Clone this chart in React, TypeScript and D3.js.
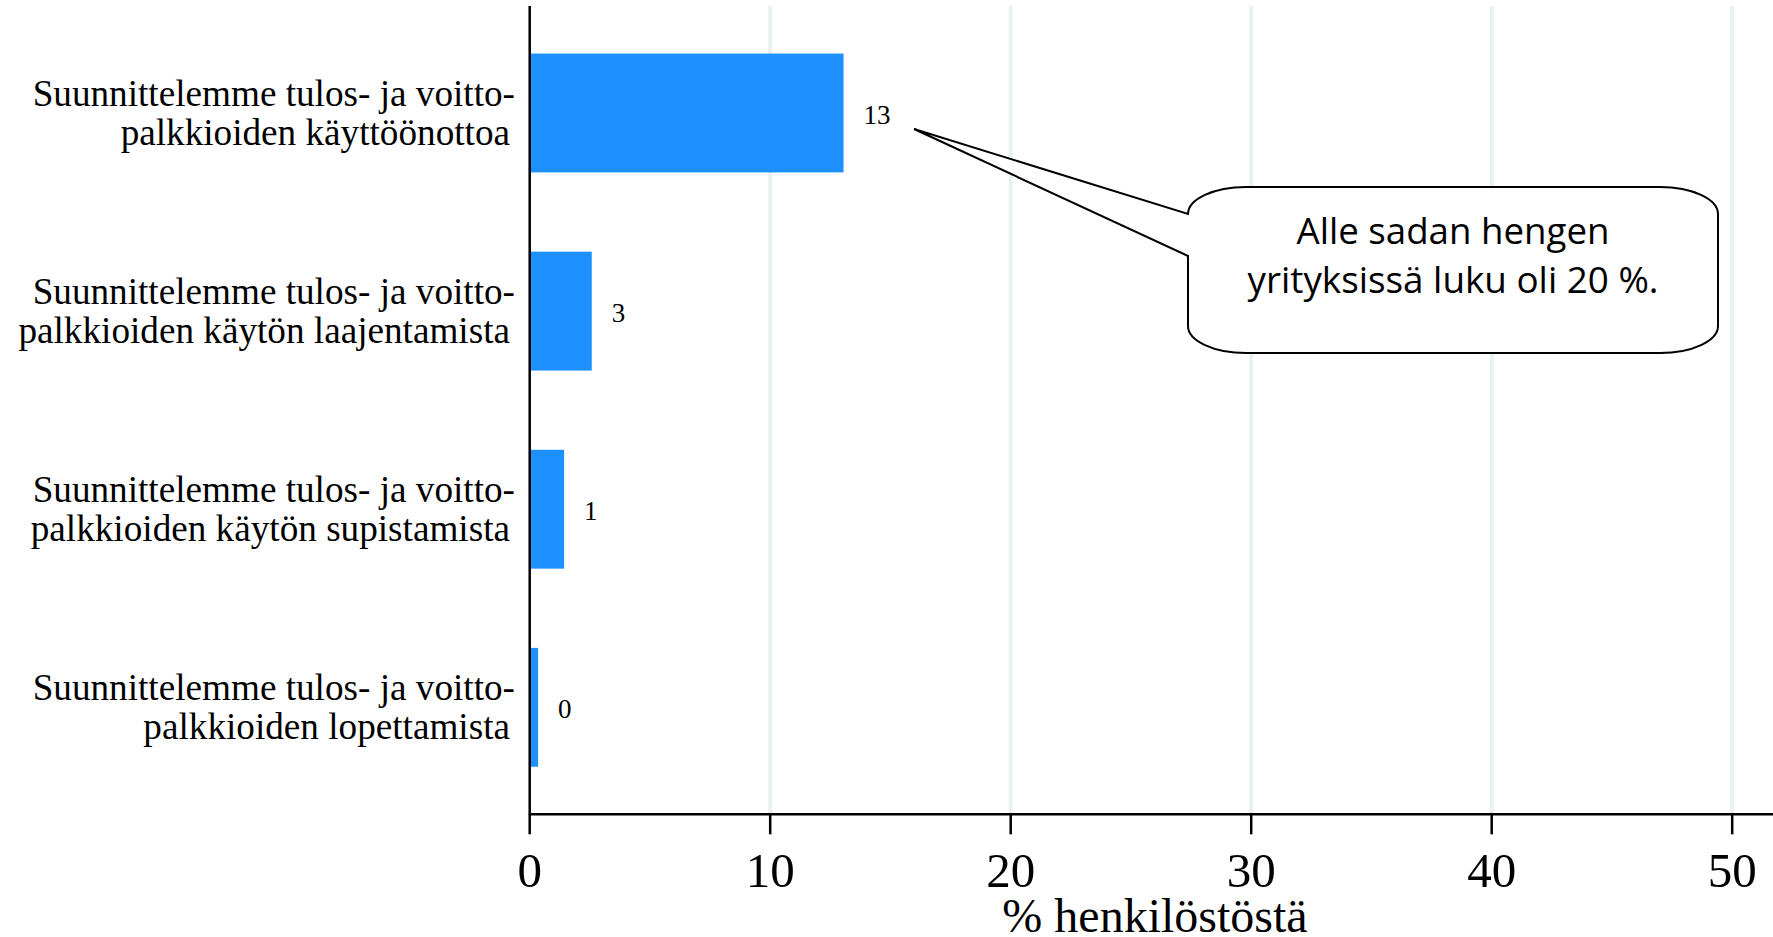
import React from "react";
import * as d3 from "d3";

const categoryLine1 = [
  "Suunnittelemme tulos- ja voitto-",
  "Suunnittelemme tulos- ja voitto-",
  "Suunnittelemme tulos- ja voitto-",
  "Suunnittelemme tulos- ja voitto-",
];
const categoryLine2 = [
  "palkkioiden käyttöönottoa",
  "palkkioiden käytön laajentamista",
  "palkkioiden käytön supistamista",
  "palkkioiden lopettamista",
];
const values = [13.05, 2.58, 1.43, 0.35];
const valueLabels = ["13", "3", "1", "0"];
const xTicks = [0, 10, 20, 30, 40, 50];
const axisTitle = "% henkilöstöstä";
const calloutLines = ["Alle sadan hengen", "yrityksissä luku oli 20 %."];

const W = 1773;
const H = 937;
const X0 = 529.7;
const X50 = 1732.2;
const Y_TOP = 6;
const Y_AXIS = 814.3;
const SERIF = "'Liberation Serif', 'Times New Roman', serif";

export default function App() {
  const x = d3.scaleLinear().domain([0, 50]).range([X0, X50]);
  const y = d3
    .scaleBand<number>()
    .domain(values.map((_, i) => i))
    .range([Y_TOP, Y_AXIS])
    .paddingInner(0.4)
    .paddingOuter(0.24);

  // callout geometry
  const bx0 = 1188, bx1 = 1718, by0 = 187, by1 = 353;
  const rx = 58, ry = 27;
  const tip = [914, 129];
  const j1 = 214, j2 = 256;
  const calloutPath = [
    `M${bx0},${j1}`,
    `L${bx0},${by0 + ry}`,
    `A${rx},${ry} 0 0 1 ${bx0 + rx},${by0}`,
    `L${bx1 - rx},${by0}`,
    `A${rx},${ry} 0 0 1 ${bx1},${by0 + ry}`,
    `L${bx1},${by1 - ry}`,
    `A${rx},${ry} 0 0 1 ${bx1 - rx},${by1}`,
    `L${bx0 + rx},${by1}`,
    `A${rx},${ry} 0 0 1 ${bx0},${by1 - ry}`,
    `L${bx0},${j2}`,
    `L${tip[0]},${tip[1]}`,
    "Z",
  ].join(" ");
  const cx = (bx0 + bx1) / 2;

  return (
    <svg
      width={W}
      height={H}
      style={{ position: "absolute", left: 0, top: 0, background: "#fff" }}
    >
      <rect x={0} y={0} width={W} height={H} fill="#fff" />
      {/* gridlines */}
      {xTicks
        .filter((t) => t > 0)
        .map((t) => (
          <line
            key={"g" + t}
            x1={x(t)}
            x2={x(t)}
            y1={Y_TOP}
            y2={Y_AXIS}
            stroke="#e9f1f2"
            strokeWidth={4}
          />
        ))}
      {/* bars */}
      {values.map((v, i) => (
        <rect
          key={"b" + i}
          x={x(0)}
          y={y(i)}
          width={x(v) - x(0)}
          height={y.bandwidth()}
          fill="#1e90ff"
        />
      ))}
      {/* value labels */}
      {values.map((v, i) => (
        <text
          key={"v" + i}
          x={x(v) + 20}
          y={(y(i) as number) + y.bandwidth() / 2 + 11}
          fontFamily={SERIF}
          fontSize={27}
          fill="#000"
        >
          {valueLabels[i]}
        </text>
      ))}
      {/* category labels */}
      {values.map((_, i) => {
        const c = (y(i) as number) + y.bandwidth() / 2;
        return (
          <g key={"c" + i} fontFamily={SERIF} fontSize={37.2} fill="#000">
            <text x={515} y={c - 7} textAnchor="end">
              {categoryLine1[i]}
            </text>
            <text x={510} y={c + 32} textAnchor="end">
              {categoryLine2[i]}
            </text>
          </g>
        );
      })}
      {/* axes */}
      <line x1={X0} x2={X0} y1={Y_TOP} y2={Y_AXIS + 1} stroke="#000" strokeWidth={2.5} />
      <line x1={X0} x2={W} y1={Y_AXIS} y2={Y_AXIS} stroke="#000" strokeWidth={2.5} />
      {xTicks.map((t) => (
        <g key={"t" + t}>
          <line x1={x(t)} x2={x(t)} y1={Y_AXIS} y2={Y_AXIS + 20} stroke="#000" strokeWidth={2.5} />
          <text
            x={x(t)}
            y={887}
            textAnchor="middle"
            fontFamily={SERIF}
            fontSize={49}
            fill="#000"
          >
            {t}
          </text>
        </g>
      ))}
      <text
        x={1155}
        y={932}
        textAnchor="middle"
        fontFamily={SERIF}
        fontSize={48}
        fill="#000"
      >
        {axisTitle}
      </text>
      {/* callout */}
      <path d={calloutPath} fill="#fff" stroke="#000" strokeWidth={2} strokeLinejoin="miter" />
      <text
        x={cx}
        y={244}
        textAnchor="middle"
        fontFamily="'Open Sans', 'Noto Sans', sans-serif"
        fontSize={37}
        textLength={313}
        lengthAdjust="spacingAndGlyphs"
        fill="#000"
      >
        {calloutLines[0]}
      </text>
      <text
        x={cx}
        y={293}
        textAnchor="middle"
        fontFamily="'Open Sans', 'Noto Sans', sans-serif"
        fontSize={37}
        textLength={411}
        lengthAdjust="spacingAndGlyphs"
        fill="#000"
      >
        {calloutLines[1]}
      </text>
    </svg>
  );
}
